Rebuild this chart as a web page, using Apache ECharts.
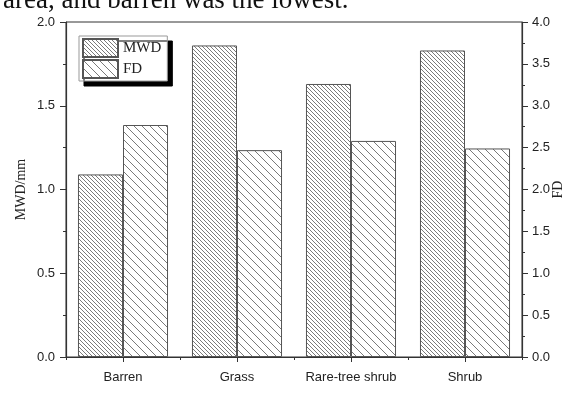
<!DOCTYPE html>
<html>
<head>
<meta charset="utf-8">
<script src="https://cdn.jsdelivr.net/npm/echarts@6/dist/echarts.min.js"></script>
<style>
  html, body { margin: 0; padding: 0; background: #fff; }
  #chart { width: 565px; height: 398px; }
</style>
</head>
<body>
<div id="chart"></div>
<script>
// Aggregate stability (MWD) and fractal dimension (FD) by land cover type
var categories = ['Barren', 'Grass', 'Rare-tree shrub', 'Shrub'];
var mwdValues = [1.09, 1.86, 1.63, 1.83];
var fdValues = [2.77, 2.47, 2.58, 2.49];
var leftTicks = [0, 0.5, 1.0, 1.5, 2.0];
var rightTicks = [0, 0.5, 1.0, 1.5, 2.0, 2.5, 3.0, 3.5, 4.0];
var captionText = 'area, and barren was the lowest.';

// Diagonal "\" hatch tile drawn on a small canvas
function hatch(size, color, width) {
  var c = document.createElement('canvas');
  c.width = size; c.height = size;
  var g = c.getContext('2d');
  g.fillStyle = '#fff';
  g.fillRect(0, 0, size, size);
  g.strokeStyle = color;
  g.lineWidth = width;
  g.beginPath();
  g.moveTo(-1, -1); g.lineTo(size + 1, size + 1);
  g.moveTo(size - 1, -1); g.lineTo(size + 1, 1);
  g.moveTo(-1, size - 1); g.lineTo(1, size + 1);
  g.stroke();
  return { image: c, repeat: 'repeat' };
}

var denseHatch = hatch(4, '#7a7a7a', 1);
var sparseHatch = hatch(8, '#7a7a7a', 1);

var axisColor = '#333';
var labelFont = { fontFamily: 'Liberation Sans, Arial, sans-serif', fontSize: 13, color: '#222' };

var chart = echarts.init(document.getElementById('chart'), null, { renderer: 'canvas' });

chart.setOption({
  animation: false,
  backgroundColor: '#fff',
  grid: {
    left: 66, right: 43, top: 22, bottom: 41,
    outerBoundsMode: 'none', containLabel: false,
    show: true, borderColor: axisColor, borderWidth: 1, backgroundColor: 'transparent'
  },
  legend: {
    orient: 'vertical',
    left: 79, top: 36,
    itemWidth: 35, itemHeight: 18, itemGap: 1,
    padding: [2, 6, 2, 3],
    backgroundColor: '#fff',
    borderColor: '#999', borderWidth: 1,
    shadowColor: '#000', shadowOffsetX: 5, shadowOffsetY: 5, shadowBlur: 0.01,
    icon: 'rect',
    textStyle: { fontFamily: 'Liberation Serif, Times New Roman, serif', fontSize: 15, color: '#222', padding: [0, 0, 0, 0] },
    data: ['MWD', 'FD']
  },
  xAxis: [{
    type: 'category',
    data: categories,
    position: 'bottom',
    axisLine: { show: true, lineStyle: { color: axisColor, width: 1.2 } },
    axisTick: { show: true, alignWithLabel: true, length: 5, lineStyle: { color: axisColor } },
    axisLabel: Object.assign({ margin: 14, interval: 0 }, labelFont),
    splitLine: { show: false }
  }, {
    type: 'category',
    data: categories,
    position: 'bottom',
    axisLine: { show: false },
    axisTick: { show: true, length: 3, lineStyle: { color: axisColor } },
    axisLabel: { show: false },
    splitLine: { show: false }
  }],
  yAxis: [{
    type: 'value',
    min: leftTicks[0], max: leftTicks[leftTicks.length - 1], interval: 0.5,
    position: 'left',
    name: 'MWD/mm',
    nameLocation: 'middle', nameRotate: 90, nameGap: 38, nameMoveOverlap: false,
    nameTextStyle: { fontFamily: 'Liberation Serif, Times New Roman, serif', fontSize: 14, color: '#222' },
    axisLine: { show: true, lineStyle: { color: axisColor, width: 1.2 } },
    axisTick: { show: true, inside: false, length: 6, lineStyle: { color: axisColor } },
    minorTick: { show: true, splitNumber: 2, length: 3, lineStyle: { color: axisColor } },
    axisLabel: Object.assign({ margin: 11, formatter: function (v) { return v.toFixed(1); } }, labelFont),
    splitLine: { show: false }
  }, {
    type: 'value',
    min: rightTicks[0], max: rightTicks[rightTicks.length - 1], interval: 0.5,
    position: 'right',
    name: 'FD',
    nameLocation: 'middle', nameRotate: 90, nameGap: 29, nameMoveOverlap: false,
    nameTextStyle: { fontFamily: 'Liberation Serif, Times New Roman, serif', fontSize: 14, color: '#222' },
    axisLine: { show: true, lineStyle: { color: axisColor, width: 1.2 } },
    axisTick: { show: true, inside: false, length: 6, lineStyle: { color: axisColor } },
    minorTick: { show: true, splitNumber: 2, length: 3, lineStyle: { color: axisColor } },
    axisLabel: Object.assign({ margin: 10, formatter: function (v) { return v.toFixed(1); } }, labelFont),
    splitLine: { show: false }
  }],
  series: [{
    name: 'MWD',
    type: 'bar',
    xAxisIndex: 0, yAxisIndex: 0,
    data: mwdValues,
    barCategoryGap: '21%', barGap: '0%',
    itemStyle: { color: denseHatch, borderColor: '#555', borderWidth: 1 }
  }, {
    name: 'FD',
    type: 'bar',
    xAxisIndex: 0, yAxisIndex: 1,
    data: fdValues,
    barCategoryGap: '21%', barGap: '0%',
    itemStyle: { color: sparseHatch, borderColor: '#555', borderWidth: 1 }
  }],
  graphic: [{
    type: 'text',
    left: 3, top: -13,
    style: {
      text: captionText,
      font: '27px "Liberation Serif", "Times New Roman", serif',
      fill: '#111'
    }
  }]
});
</script>
</body>
</html>
